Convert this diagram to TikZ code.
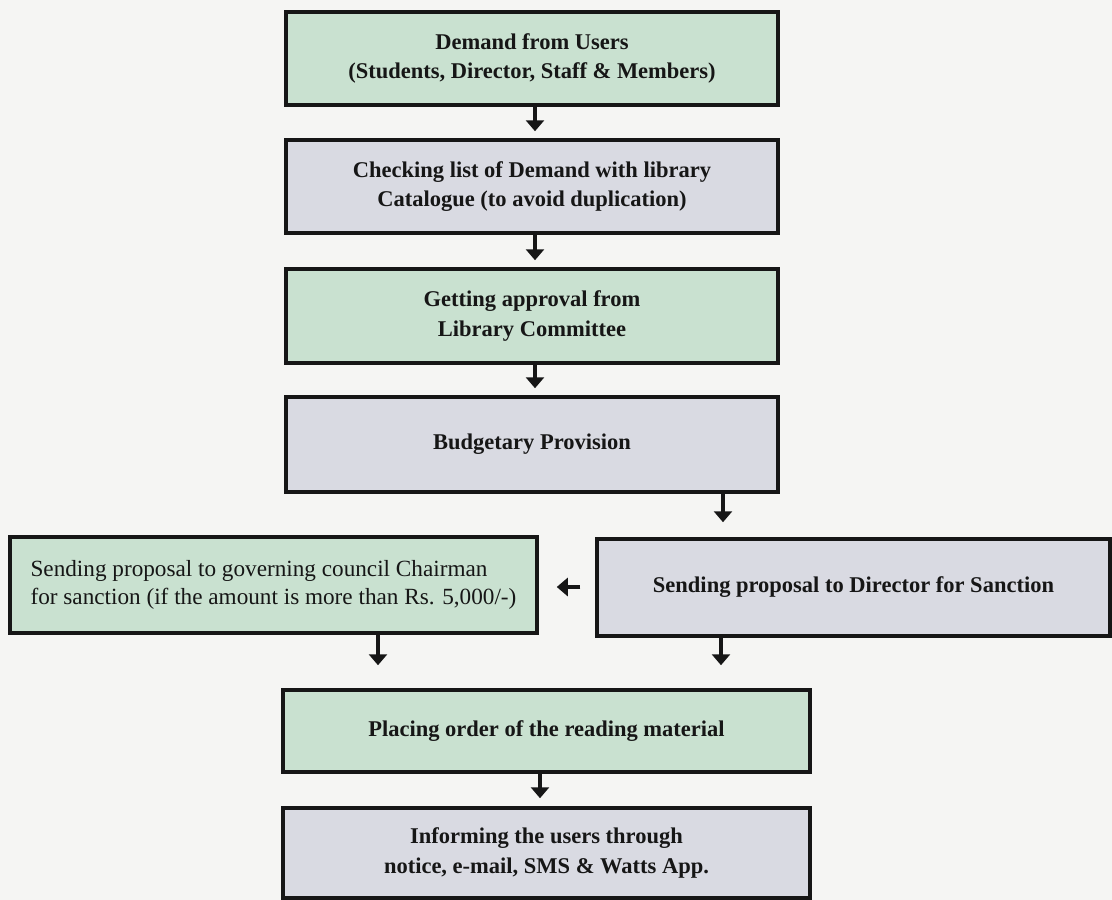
\documentclass[tikz,border=0pt]{standalone}
\usepackage{fontspec}
\setmainfont{Liberation Serif}
\usetikzlibrary{arrows.meta,calc}
\definecolor{bgc}{HTML}{F5F5F3}
\definecolor{greenfill}{HTML}{C9E1D0}
\definecolor{grayfill}{HTML}{D9DAE2}
\definecolor{inkc}{HTML}{161616}
\begin{document}
\begin{tikzpicture}[x=1pt,y=-1pt,
  boxbase/.style={draw=inkc, line width=3.5pt, rectangle, align=center, inner sep=0pt,
    text=inkc, font=\fontsize{22.5}{29.5}\selectfont\bfseries},
  greenbox/.style={boxbase, fill=greenfill},
  graybox/.style={boxbase, fill=grayfill},
  arr/.style={draw=inkc, line width=4.5pt, -{Triangle[width=18pt,length=11pt]}}
]
\fill[bgc] (0,0) rectangle (1112,900);
\useasboundingbox (0,0) rectangle (1112,900);

\node[greenbox, minimum width=492pt, minimum height=93pt] (b1) at (532,58.5)
  {Demand from Users\\(Students, Director, Staff \& Members)};
\node[graybox, minimum width=492pt, minimum height=93pt] (b2) at (532,186.5)
  {Checking list of Demand with library\\Catalogue (to avoid duplication)};
\node[greenbox, minimum width=492pt, minimum height=94pt] (b3) at (532,316)
  {Getting approval from\\Library Committee};
\node[graybox, minimum width=492pt, minimum height=95pt] (b4) at (532,444.5)
  {Budgetary Provision};
\node[greenbox, minimum width=527pt, minimum height=96pt, align=left,
  font=\fontsize{23.2}{28}\selectfont] (L) at (273.5,585)
  {Sending proposal to governing council Chairman\\for sanction (if the amount is more than Rs. 5,000/-)};
\node[graybox, minimum width=513pt, minimum height=97pt] (R) at (853.5,587.5)
  {Sending proposal to Director for Sanction};
\node[greenbox, minimum width=527pt, minimum height=82pt] (b6) at (546.5,731)
  {Placing order of the reading material};
\node[graybox, minimum width=527pt, minimum height=90pt] (b7) at (546.5,853)
  {Informing the users through\\notice, e-mail, SMS \& Watts App.};

\coordinate (x1) at (535,0);
\coordinate (x2) at (723,0);
\coordinate (x3) at (378,0);
\coordinate (x4) at (721,0);
\coordinate (x5) at (540,0);
\coordinate (yh) at (0,587);

\draw[arr, shorten >=7pt] (b1.south -| x1) -- (b2.north -| x1);
\draw[arr, shorten >=7pt] (b2.south -| x1) -- (b3.north -| x1);
\draw[arr, shorten >=7pt] (b3.south -| x1) -- (b4.north -| x1);
\draw[arr, shorten >=15pt] (b4.south -| x2) -- (R.north -| x2);
\draw[arr, shorten <=15pt, shorten >=18pt] (R.west |- yh) -- (L.east |- yh);
\draw[arr, shorten >=23pt] (L.south -| x3) -- (b6.north -| x3);
\draw[arr, shorten >=23pt] (R.south -| x4) -- (b6.north -| x4);
\draw[arr, shorten >=8pt] (b6.south -| x5) -- (b7.north -| x5);
\end{tikzpicture}
\end{document}
